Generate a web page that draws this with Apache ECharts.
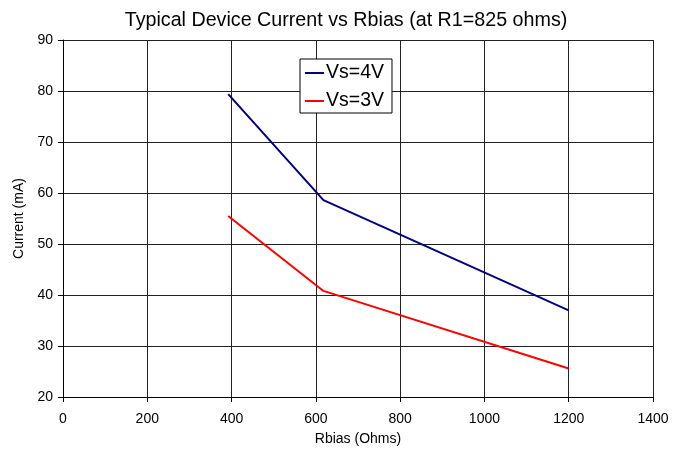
<!DOCTYPE html>
<html><head><meta charset="utf-8">
<script src="https://cdn.jsdelivr.net/npm/echarts@6/dist/echarts.min.js"></script>
<style>html,body{margin:0;padding:0;background:#fff}#c{width:688px;height:451px}</style>
</head><body><div id="c"></div>
<script>
const rbias4 = [392, 618, 1200];
const vs4 = [79.4, 58.6, 37.0];
const rbias3 = [392, 618, 1200];
const vs3 = [55.5, 40.8, 25.6];
const seriesNames = ['Vs=4V', 'Vs=3V'];
const F = 'Liberation Sans, Arial, sans-serif';
const chart = echarts.init(document.getElementById('c'));
chart.setOption({
  animation: false,
  backgroundColor: '#fff',
  title: { text: 'Typical Device Current vs Rbias (at R1=825 ohms)', left: 341, textAlign: 'center', top: 6,
    textStyle: { fontFamily: F, fontSize: 19.7, fontWeight: 'normal', color: '#000' } },
  legend: { orient: 'vertical', left: 300, top: 59, data: seriesNames,
    backgroundColor: '#fff', borderColor: '#000', borderWidth: 1, padding: [4, 8, 2, 5],
    itemGap: 8, itemWidth: 19, itemHeight: 2, icon: 'rect',
    textStyle: { fontFamily: F, fontSize: 19.5, lineHeight: 20, color: '#000', padding: [0, 0, 0, -3] } },
  grid: { left: 63, right: 35, top: 40, bottom: 53 },
  xAxis: { type: 'value', min: 0, max: 1400, interval: 200,
    name: 'Rbias (Ohms)', nameLocation: 'middle', nameGap: 35,
    nameTextStyle: { fontFamily: F, fontSize: 14, color: '#000' },
    axisLine: { lineStyle: { color: '#000' } },
    axisTick: { show: true, length: 5, lineStyle: { color: '#000' } },
    axisLabel: { fontFamily: F, fontSize: 14, color: '#000', margin: 15, formatter: v => String(v) },
    splitLine: { show: true, lineStyle: { color: '#222', width: 1 } } },
  yAxis: { type: 'value', min: 20, max: 90, interval: 10,
    name: 'Current (mA)', nameLocation: 'middle', nameGap: 36,
    nameTextStyle: { fontFamily: F, fontSize: 14, color: '#000' },
    axisLine: { show: true, lineStyle: { color: '#000' } },
    axisTick: { show: true, length: 5, lineStyle: { color: '#000' } },
    axisLabel: { fontFamily: F, fontSize: 14, color: '#000', margin: 10, formatter: v => String(v) },
    splitLine: { show: true, lineStyle: { color: '#222', width: 1 } } },
  series: [
    { name: seriesNames[0], type: 'line', symbol: 'none', lineStyle: { color: '#000080', width: 2 }, itemStyle: { color: '#000080' },
      data: rbias4.map((x, i) => [x, vs4[i]]) },
    { name: seriesNames[1], type: 'line', symbol: 'none', lineStyle: { color: '#ff0000', width: 2 }, itemStyle: { color: '#ff0000' },
      data: rbias3.map((x, i) => [x, vs3[i]]) }
  ]
});
</script></body></html>
